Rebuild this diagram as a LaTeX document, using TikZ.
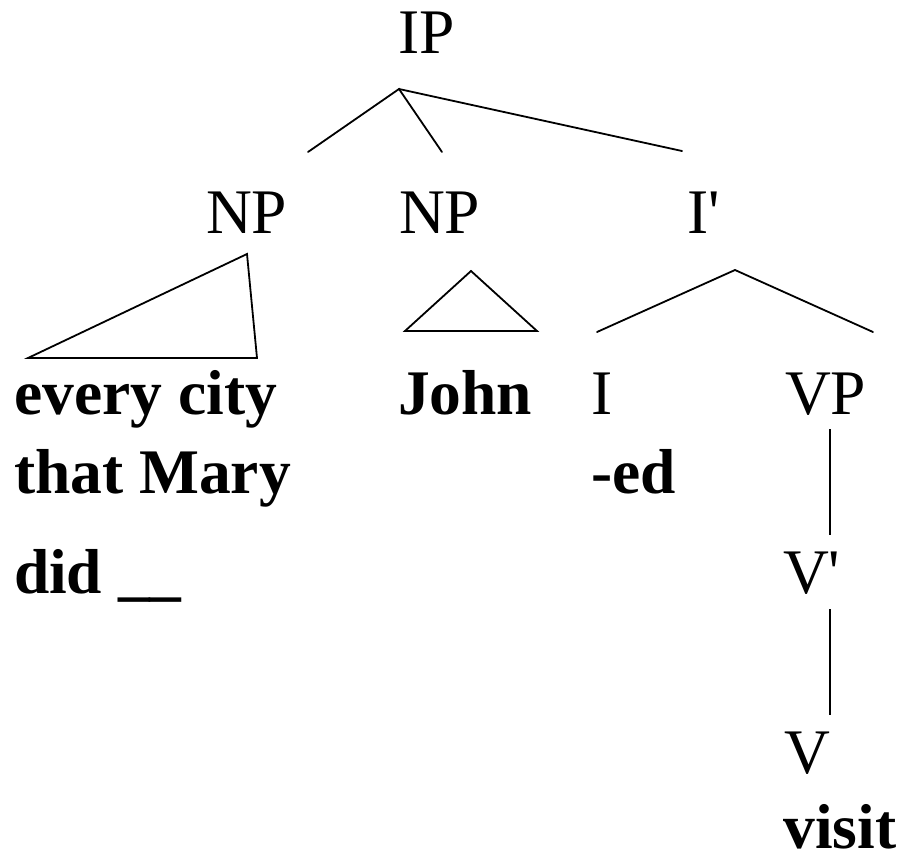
\documentclass[tikz,border=0pt]{standalone}
\usepackage{fontspec}
\setmainfont{Liberation Serif}[Ligatures=TeXOff]
\begin{document}
\begin{tikzpicture}[x=1pt,y=1pt,
  lbl/.style={anchor=base west,inner sep=0pt,outer sep=0pt,font=\fontsize{63.5}{70}\selectfont},
  wrd/.style={lbl,font=\fontsize{63.5}{70}\selectfont\bfseries},
  branch/.style={line width=1.8pt,line cap=round,line join=miter},
  vbranch/.style={line width=2.8pt}]
\useasboundingbox (0,0) rectangle (905,-854);
% labels
\node[lbl] (ip) at (398.5,-53) {IP};
\node[lbl] (np1) at (206,-233) {NP};
\node[lbl] (np2) at (399,-233) {NP};
\node[lbl] (ibar) at (687,-233) {I'};
\node[wrd] (w1) at (14.5,-414) {every city};
\node[wrd] (john) at (398,-414) {John};
\node[lbl] (i) at (591,-414) {I};
\node[lbl] (vp) at (785,-414) {VP};
\node[wrd] (w2) at (14,-493) {that Mary};
\node[wrd] (ed) at (591.5,-493) {-ed};
\node[wrd] (w3) at (14,-593) {did \_\_};
\node[lbl] (vbar) at (783,-593) {V'};
\node[lbl] (v) at (784,-773) {V};
\node[wrd] (visit) at (783.5,-848) {visit};
% branch points
\coordinate (ipA) at (399,-89);
\coordinate (ipL) at (308,-152);
\coordinate (ipM) at (442,-152);
\coordinate (ipR) at (682,-151);
\coordinate (t1A) at (247,-254);
\coordinate (t1L) at (28,-358);
\coordinate (t1R) at (257,-358);
\coordinate (t2A) at (471,-271);
\coordinate (t2L) at (405,-331);
\coordinate (t2R) at (537,-331);
\coordinate (ibA) at (735,-270);
\coordinate (ibL) at (597,-332);
\coordinate (ibR) at (873,-332);
\coordinate (vpT) at (830,-429);
\coordinate (vpB) at (830,-535);
\coordinate (vbT) at (830,-609);
\coordinate (vbB) at (830,-715);
% connectors
\draw[branch] (ipL) -- (ipA) -- (ipM);
\draw[branch] (ipA) -- (ipR);
\draw[branch] (t1A) -- (t1L) -- (t1R) -- cycle;
\draw[branch] (t2A) -- (t2L) -- (t2R) -- cycle;
\draw[branch] (ibL) -- (ibA) -- (ibR);
\draw[vbranch] (vpT) -- (vpB);
\draw[vbranch] (vbT) -- (vbB);
\end{tikzpicture}
\end{document}
